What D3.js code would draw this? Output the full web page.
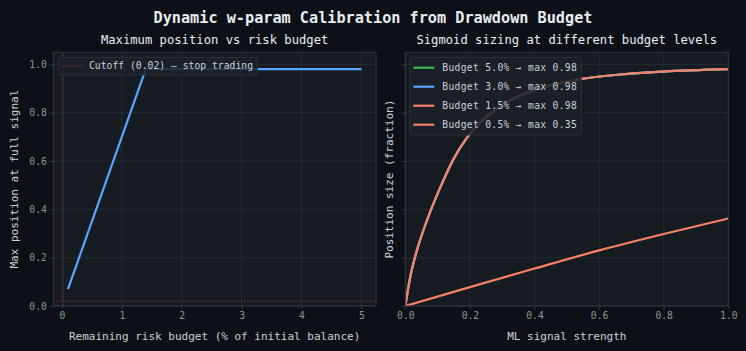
<!DOCTYPE html>
<html><head><meta charset="utf-8">
<script src="https://cdn.jsdelivr.net/npm/d3@7"></script>
<style>
html,body{margin:0;padding:0;background:#0d1117;}
svg{display:block;font-family:"DejaVu Sans Mono",monospace;}
</style></head>
<body><svg id="c" width="746" height="351"></svg>
<script>
// ---- Data ----
const budgetX = [0.1, 1.4, 5.0];
const maxPosY = [0.07, 0.98, 0.98];
const cutoff = 0.02;
const leftXTicks = [0, 1, 2, 3, 4, 5];
const yTicks = [0.0, 0.2, 0.4, 0.6, 0.8, 1.0];
const rightXTicks = [0.0, 0.2, 0.4, 0.6, 0.8, 1.0];

const signalX = [0, 0.015, 0.035, 0.06, 0.08, 0.1, 0.123, 0.15, 0.19, 0.247, 0.3, 0.396, 0.546, 0.665, 0.8, 1.0];
const sizeHigh = [0, 0.118, 0.226, 0.328, 0.40, 0.465, 0.535, 0.61, 0.695, 0.778, 0.833, 0.891, 0.94, 0.958, 0.97, 0.98];
const lowX = [0, 0.2, 0.4, 0.6, 0.8, 1.0];
const sizeLow = [0, 0.078, 0.155, 0.23, 0.298, 0.362];

const seriesNames = ["Budget 5.0% \u2192 max 0.98", "Budget 3.0% \u2192 max 0.98", "Budget 1.5% \u2192 max 0.98", "Budget 0.5% \u2192 max 0.35"];
const seriesColors = ["#3fb950", "#58a6ff", "#f78166", "#f78166"];
const seriesData = [[signalX, sizeHigh], [signalX, sizeHigh], [signalX, sizeHigh], [lowX, sizeLow]];

// ---- Style ----
const BG = "#0d1117", AX = "#161b22", GRID = "#2a3038", SPINE = "#30363d",
      TICK = "#8b949e", LABEL = "#c9d1d9", TITLE = "#e6edf3";

const svg = d3.select("#c");
svg.append("rect").attr("width", 746).attr("height", 351).attr("fill", BG);

svg.append("text").attr("x", 373).attr("y", 23).attr("text-anchor", "middle")
  .attr("fill", TITLE).attr("font-size", 15.2).attr("font-weight", "bold")
  .text("Dynamic w-param Calibration from Drawdown Budget");

function panel(x0, x1, y0, y1, xDom, xTicks, showYLabels, title, xlabel, ylabel) {
  const g = svg.append("g");
  const x = d3.scaleLinear().domain(xDom).range([x0, x1]);
  const y = d3.scaleLinear().domain([0, 1.05]).range([y1, y0]);
  g.append("rect").attr("x", x0).attr("y", y0).attr("width", x1 - x0).attr("height", y1 - y0).attr("fill", AX);
  g.append("g").selectAll("line").data(xTicks).join("line")
    .attr("x1", d => x(d)).attr("x2", d => x(d)).attr("y1", y0).attr("y2", y1)
    .attr("stroke", GRID).attr("stroke-width", 0.8);
  g.append("g").selectAll("line").data(yTicks).join("line")
    .attr("x1", x0).attr("x2", x1).attr("y1", d => y(d)).attr("y2", d => y(d))
    .attr("stroke", GRID).attr("stroke-width", 0.8);
  const xa = g.append("g").attr("transform", `translate(0,${y1})`)
    .call(d3.axisBottom(x).tickValues(xTicks).tickSize(3.5).tickPadding(3)
      .tickFormat(xDom[1] > 2 ? d3.format("d") : d3.format(".1f")));
  const ya = g.append("g").attr("transform", `translate(${x0},0)`)
    .call(d3.axisLeft(y).tickValues(yTicks).tickSize(3.5).tickPadding(3)
      .tickFormat(showYLabels ? d3.format(".1f") : ""));
  [xa, ya].forEach(a => {
    a.select(".domain").remove();
    a.selectAll("line").attr("stroke", SPINE);
    a.selectAll("text").attr("fill", TICK).attr("font-size", 9.7)
      .attr("font-family", "DejaVu Sans Mono");
  });
  g.append("text").attr("x", (x0 + x1) / 2).attr("y", y0 - 8).attr("text-anchor", "middle")
    .attr("fill", TITLE).attr("font-size", 12.2).text(title);
  g.append("text").attr("x", (x0 + x1) / 2).attr("y", 340).attr("text-anchor", "middle")
    .attr("fill", LABEL).attr("font-size", 11).text(xlabel);
  const lx = x0 - (showYLabels ? 35 : 12);
  g.append("text").attr("transform", `translate(${lx},${(y0 + y1) / 2}) rotate(-90)`)
    .attr("text-anchor", "middle").attr("fill", LABEL).attr("font-size", 11).text(ylabel);
  return {g, x, y, x0, x1, y0, y1};
}

function spines(p) {
  p.g.append("rect").attr("x", p.x0).attr("y", p.y0).attr("width", p.x1 - p.x0).attr("height", p.y1 - p.y0)
    .attr("fill", "none").attr("stroke", SPINE).attr("stroke-width", 1);
}

// ---- Left panel ----
const L = panel(53.3, 376, 52.3, 306, [-0.145, 5.245], leftXTicks, true,
  "Maximum position vs risk budget", "Remaining risk budget (% of initial balance)", "Max position at full signal");
const clipL = L.g.append("clipPath").attr("id", "clipL");
clipL.append("rect").attr("x", L.x0).attr("y", L.y0).attr("width", L.x1 - L.x0).attr("height", L.y1 - L.y0);
const lc = L.g.append("g").attr("clip-path", "url(#clipL)");
lc.append("line").attr("x1", L.x(cutoff)).attr("x2", L.x(cutoff)).attr("y1", L.y0).attr("y2", L.y1)
  .attr("stroke", "#f85149").attr("stroke-opacity", 0.6).attr("stroke-width", 1).attr("stroke-dasharray", "1,1.65");
lc.append("line").attr("x1", L.x0).attr("x2", L.x1).attr("y1", L.y(cutoff)).attr("y2", L.y(cutoff))
  .attr("stroke", "#f85149").attr("stroke-opacity", 0.6).attr("stroke-width", 1).attr("stroke-dasharray", "1,1.65");
lc.append("path").datum(budgetX.map((d, i) => [d, maxPosY[i]]))
  .attr("d", d3.line().x(d => L.x(d[0])).y(d => L.y(d[1])))
  .attr("fill", "none").attr("stroke", "#58a6ff").attr("stroke-width", 2.2).attr("stroke-linejoin", "round");
spines(L);
const lg = L.g.append("g");
lg.append("rect").attr("x", 58.3).attr("y", 57.3).attr("width", 199).attr("height", 17.7).attr("rx", 2)
  .attr("fill", "#1c2129").attr("fill-opacity", 0.85).attr("stroke", SPINE).attr("stroke-width", 0.8);
lg.append("line").attr("x1", 62.5).attr("x2", 82).attr("y1", 66).attr("y2", 66)
  .attr("stroke", "#f85149").attr("stroke-opacity", 0.7).attr("stroke-width", 1).attr("stroke-dasharray", "1,1.65");
lg.append("text").attr("x", 89).attr("y", 69.4).attr("fill", LABEL).attr("font-size", 9.7)
  .attr("textLength", 164).attr("lengthAdjust", "spacing")
  .text("Cutoff (0.02) \u2014 stop trading");

// ---- Right panel ----
const R = panel(405.3, 728.3, 52.3, 306, [0, 1], rightXTicks, false,
  "Sigmoid sizing at different budget levels", "ML signal strength", "Position size (fraction)");
const clipR = R.g.append("clipPath").attr("id", "clipR");
clipR.append("rect").attr("x", R.x0).attr("y", R.y0).attr("width", R.x1 - R.x0).attr("height", R.y1 - R.y0);
const rc = R.g.append("g").attr("clip-path", "url(#clipR)");
const rline = d3.line().x(d => R.x(d[0])).y(d => R.y(d[1])).curve(d3.curveMonotoneX);
seriesData.forEach((s, i) => {
  rc.append("path").datum(s[0].map((d, j) => [d, s[1][j]]))
    .attr("d", rline).attr("fill", "none").attr("stroke", seriesColors[i]).attr("stroke-width", 2.2);
});
spines(R);
const rg = R.g.append("g");
rg.append("rect").attr("x", 410).attr("y", 57.3).attr("width", 171.3).attr("height", 77.7).attr("rx", 2)
  .attr("fill", "#1c2129").attr("fill-opacity", 0.85).attr("stroke", SPINE).attr("stroke-width", 0.8);
seriesNames.forEach((n, i) => {
  const cy = 67.7 + i * 19;
  rg.append("line").attr("x1", 413.3).attr("x2", 434.3).attr("y1", cy).attr("y2", cy)
    .attr("stroke", seriesColors[i]).attr("stroke-width", 2.2);
  rg.append("text").attr("x", 442.3).attr("y", cy + 3.4).attr("fill", LABEL).attr("font-size", 9.7)
    .attr("textLength", 134.5).attr("lengthAdjust", "spacing").text(n);
});
</script></body></html>
